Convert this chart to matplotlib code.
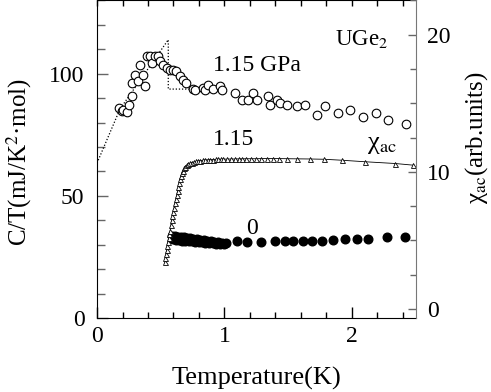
import numpy as np
import matplotlib
matplotlib.use('Agg')
import matplotlib.pyplot as plt
from matplotlib.ticker import MultipleLocator

plt.rcParams['font.family'] = ['Liberation Serif', 'DejaVu Serif']
plt.rcParams['mathtext.fontset'] = 'stix'

# C/T at 1.15 GPa (open circles, left axis)
ct_p_T = [0.175, 0.194, 0.207, 0.233, 0.254, 0.272, 0.277, 0.298, 0.319, 0.337,
          0.358, 0.376, 0.395, 0.416, 0.434, 0.455, 0.481, 0.494, 0.520, 0.547,
          0.573, 0.598, 0.620, 0.651, 0.677, 0.698, 0.755, 0.769, 0.834, 0.847,
          0.873, 0.912, 0.965, 0.978, 1.082, 1.135, 1.187, 1.226, 1.252, 1.344,
          1.357, 1.409, 1.435, 1.488, 1.566, 1.631, 1.723, 1.788, 1.893, 1.984,
          2.084, 2.188, 2.285, 2.424]
ct_p_C = [85.9, 84.9, 85.2, 84.5, 87.3, 90.7, 96.2, 99.6, 96.9, 103.7,
          99.6, 95.1, 107.4, 107.4, 104.4, 107.1, 107.4, 105.1, 103.7, 102.3,
          101.6, 101.6, 100.9, 98.9, 97.5, 96.2, 93.9, 93.4, 94.1, 93.4,
          95.5, 93.7, 94.8, 93.4, 92.1, 89.3, 89.3, 92.1, 89.3, 90.7,
          87.3, 89.3, 88.0, 87.3, 86.6, 87.3, 83.2, 86.6, 83.9, 85.2,
          82.3, 83.9, 81.1, 79.4]

# entropy-balance construction (dotted)
fit_T = [0.0, 0.18, 0.559, 0.559, 0.73]
fit_C = [63.4, 85.5, 113.9, 93.7, 93.7]

# C/T at 0 GPa (filled circles, left axis)
ct_0_T = [0.585, 0.600, 0.610, 0.620, 0.632, 0.645, 0.655, 0.668, 0.680, 0.692,
          0.705, 0.718, 0.730, 0.743, 0.756, 0.770, 0.783, 0.797, 0.810, 0.823,
          0.837, 0.850, 0.864, 0.878, 0.892, 0.906, 0.920, 0.935, 0.950, 0.965,
          0.980, 0.995, 1.010, 1.096, 1.180, 1.290, 1.400, 1.475, 1.540, 1.613,
          1.684, 1.762, 1.849, 1.945, 2.037, 2.128, 2.272, 2.416]
ct_0_C = [33.4, 32.2, 33.5, 31.9, 33.2, 31.8, 33.0, 31.6, 33.0, 31.7,
          32.7, 31.4, 32.8, 31.4, 32.5, 31.2, 32.4, 31.1, 32.1, 31.0,
          31.9, 30.8, 31.7, 30.6, 31.5, 30.6, 31.2, 30.4, 31.0, 30.3,
          30.8, 30.4, 30.6, 31.7, 31.3, 31.1, 31.6, 31.6, 31.6, 31.6,
          31.6, 31.7, 32.0, 32.4, 32.4, 32.4, 33.1, 33.1]

# chi_ac at 1.15 GPa (open triangles, right axis)
chi_T = [0.533, 0.537, 0.541, 0.546, 0.551, 0.556, 0.562, 0.568, 0.574, 0.580,
         0.586, 0.592, 0.598, 0.605, 0.612, 0.619, 0.626, 0.632, 0.638, 0.645,
         0.652, 0.658, 0.664, 0.672, 0.681, 0.691, 0.703, 0.716, 0.730, 0.745,
         0.760, 0.776, 0.793, 0.811, 0.830, 0.850, 0.870, 0.890, 0.910, 0.930,
         0.950, 0.970, 0.990, 1.020, 1.050, 1.080, 1.110, 1.140, 1.170, 1.210,
         1.250, 1.290, 1.330, 1.380, 1.430, 1.490, 1.570, 1.670, 1.780, 1.920,
         2.100, 2.340, 2.480]
chi_V = [3.4, 3.7, 4.0, 4.3, 4.6, 4.9, 5.2, 5.45, 5.7, 6.1,
         6.5, 6.8, 7.1, 7.4, 7.7, 8.0, 8.3, 8.6, 8.9, 9.2,
         9.5, 9.7, 9.9, 10.1, 10.25, 10.38, 10.5, 10.58, 10.64, 10.68,
         10.72, 10.76, 10.79, 10.82, 10.85, 10.87, 10.88, 10.89, 10.9, 10.91,
         10.92, 10.92, 10.93, 10.93, 10.94, 10.94, 10.95, 10.95, 10.96, 10.96,
         10.96, 10.97, 10.97, 10.97, 10.97, 10.96, 10.95, 10.94, 10.92, 10.85,
         10.74, 10.61, 10.49]

fig = plt.figure(figsize=(4.91, 3.92), dpi=100)
ax = fig.add_axes([0.1976, 0.1888, 0.6490, 0.8102])
ax2 = ax.twinx()

ax.plot(fit_T, fit_C, ls=(0, (1, 1.5)), color='black', lw=0.9, zorder=2)
ax.plot(ct_p_T, ct_p_C, 'o', ms=6.2, mfc='white', mec='black', mew=0.8, zorder=3)
ax.plot(ct_0_T, ct_0_C, 'o', ms=6.2, color='black', zorder=3)

ax2.plot(chi_T, chi_V, '-', color='black', lw=0.6)
ax2.plot(chi_T, chi_V, '^', ms=3.6, mfc='white', mec='black', mew=0.6)

ax.set_xlim(0, 2.5)
ax.set_ylim(0, 130)
ax2.set_ylim(-0.65, 22.5)

tick_gray = '#666666'
ax.xaxis.set_major_locator(MultipleLocator(1))
ax.xaxis.set_minor_locator(MultipleLocator(0.2))
ax.yaxis.set_major_locator(MultipleLocator(50))
ax.yaxis.set_minor_locator(MultipleLocator(10))
ax2.yaxis.set_major_locator(MultipleLocator(10))
ax2.yaxis.set_minor_locator(MultipleLocator(2.5))

ax.tick_params(axis='x', which='major', direction='in', length=8, width=1,
               labelsize=17, pad=6, top=False)
ax.tick_params(axis='x', which='minor', direction='in', length=4.5, width=1, top=False)
ax.tick_params(axis='y', which='major', direction='in', length=8, width=1,
               color=tick_gray, labelsize=17, pad=9, right=False)
ax.tick_params(axis='y', which='minor', direction='in', length=5.5, width=1,
               color=tick_gray, right=False)
ax2.tick_params(axis='y', which='major', direction='in', length=6, width=1,
                color=tick_gray, labelsize=17, pad=8)
ax2.tick_params(axis='y', which='minor', direction='in', length=4.5, width=1,
                color=tick_gray)

sec = ax.secondary_xaxis('top')
sec.set_xticks(np.arange(0, 2.5, 0.2))
sec.tick_params(direction='in', length=4.5, width=1, labeltop=False)
sec.spines['top'].set_visible(False)

ax.spines['right'].set_visible(False)
ax2.spines['right'].set_color('#777777')
ax2.spines['left'].set_visible(False)
ax2.spines['top'].set_visible(False)
ax2.spines['bottom'].set_visible(False)

ax.set_xlabel('Temperature(K)', fontsize=19)
ax.xaxis.set_label_coords(0.5, -0.153)
ax.set_ylabel('C/T(mJ/K$^2$·mol)', fontsize=18)
ax.yaxis.set_label_coords(-0.198, 0.49)
ax2.set_ylabel('χ$_{\\mathrm{ac}}$(arb.units)', fontsize=18)
ax2.yaxis.set_label_coords(1.148, 0.567)

ax.text(0.747, 0.88, 'UGe$_2$', transform=ax.transAxes, fontsize=16.5, va='center')
ax.text(0.364, 0.796, '1.15 GPa', transform=ax.transAxes, fontsize=17, va='center')
ax.text(0.364, 0.563, '1.15', transform=ax.transAxes, fontsize=17, va='center')
ax.text(0.846, 0.544, 'χ$_{\\mathrm{ac}}$', transform=ax.transAxes, fontsize=19, va='center')
ax.text(0.467, 0.282, '0', transform=ax.transAxes, fontsize=17, va='center')

fig.savefig('out.png', dpi=100)
